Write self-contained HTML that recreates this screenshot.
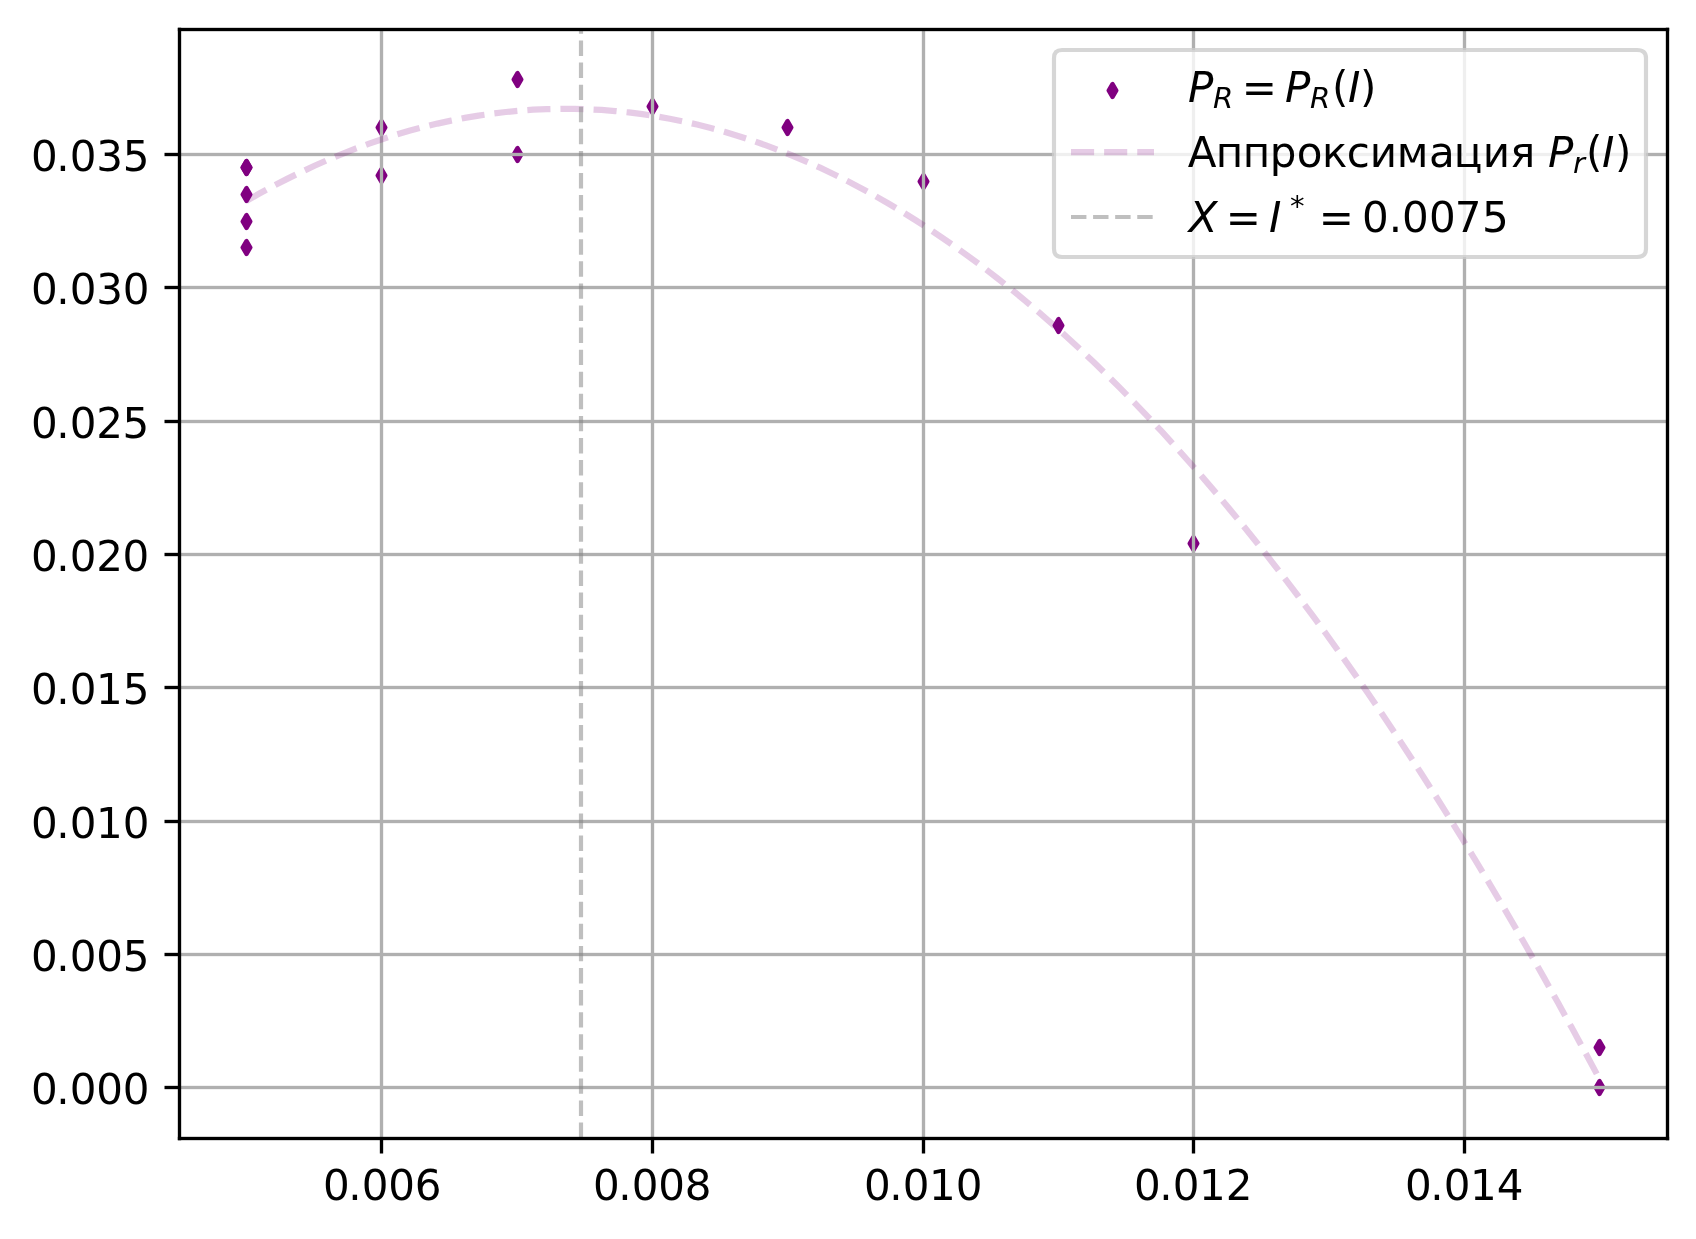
<!DOCTYPE html>
<html lang="ru">
<head>
<meta charset="utf-8">
<title>P_R(I)</title>
<style>
html,body{margin:0;padding:0;background:#fff;}
body{width:1696px;height:1239px;overflow:hidden;}
svg{display:block;will-change:transform;}
text{white-space:pre;}
.t{filter:grayscale(1);}
</style>
</head>
<body>
<svg width="1696" height="1239" viewBox="0 0 1696 1239" font-family='"DejaVu Sans", "Liberation Sans", sans-serif' font-size="41.667" fill="#000">
<defs><clipPath id="ax"><rect x="179" y="29" width="1488" height="1109"/></clipPath></defs>
<rect width="1696" height="1239" fill="#fff"/>
<g clip-path="url(#ax)" fill="#800080" stroke="#800080" stroke-width="4.167" stroke-linejoin="round">
<path d="M246.5 174.088L250.453 167.5L246.5 160.912L242.547 167.5Z"/>
<path d="M246.5 174.088L250.453 167.5L246.5 160.912L242.547 167.5Z"/>
<path d="M246.5 201.088L250.453 194.5L246.5 187.912L242.547 194.5Z"/>
<path d="M246.5 228.088L250.453 221.5L246.5 214.912L242.547 221.5Z"/>
<path d="M246.5 254.088L250.453 247.5L246.5 240.912L242.547 247.5Z"/>
<path d="M381.5 134.088L385.453 127.5L381.5 120.912L377.547 127.5Z"/>
<path d="M381.5 182.088L385.453 175.5L381.5 168.912L377.547 175.5Z"/>
<path d="M517.5 86.088L521.453 79.5L517.5 72.912L513.547 79.5Z"/>
<path d="M517.5 161.088L521.453 154.5L517.5 147.912L513.547 154.5Z"/>
<path d="M652.5 113.088L656.453 106.5L652.5 99.912L648.547 106.5Z"/>
<path d="M787.5 134.088L791.453 127.5L787.5 120.912L783.547 127.5Z"/>
<path d="M923.5 188.088L927.453 181.5L923.5 174.912L919.547 181.5Z"/>
<path d="M1058.5 332.088L1062.453 325.5L1058.5 318.912L1054.547 325.5Z"/>
<path d="M1193.5 550.088L1197.453 543.5L1193.5 536.912L1189.547 543.5Z"/>
<path d="M1599.5 1054.088L1603.453 1047.5L1599.5 1040.912L1595.547 1047.5Z"/>
<path d="M1599.5 1094.088L1603.453 1087.5L1599.5 1080.912L1595.547 1087.5Z"/>
</g>
<g clip-path="url(#ax)" stroke="#b0b0b0" stroke-width="3.333" fill="none">
<path d="M381.5 1140.167V27.833"/>
<path d="M652.5 1140.167V27.833"/>
<path d="M923.5 1140.167V27.833"/>
<path d="M1193.5 1140.167V27.833"/>
<path d="M1464.5 1140.167V27.833"/>
<path d="M177.833 1087.5H1669.167" stroke-width="3"/><path d="M177.833 1085.5H1669.167M177.833 1089.5H1669.167" stroke-width="1" stroke-opacity="0.1667"/>
<path d="M177.833 954.5H1669.167" stroke-width="3"/><path d="M177.833 952.5H1669.167M177.833 956.5H1669.167" stroke-width="1" stroke-opacity="0.1667"/>
<path d="M177.833 821.5H1669.167" stroke-width="3"/><path d="M177.833 819.5H1669.167M177.833 823.5H1669.167" stroke-width="1" stroke-opacity="0.1667"/>
<path d="M177.833 687.5H1669.167" stroke-width="3"/><path d="M177.833 685.5H1669.167M177.833 689.5H1669.167" stroke-width="1" stroke-opacity="0.1667"/>
<path d="M177.833 554.5H1669.167" stroke-width="3"/><path d="M177.833 552.5H1669.167M177.833 556.5H1669.167" stroke-width="1" stroke-opacity="0.1667"/>
<path d="M177.833 421.5H1669.167" stroke-width="3"/><path d="M177.833 419.5H1669.167M177.833 423.5H1669.167" stroke-width="1" stroke-opacity="0.1667"/>
<path d="M177.833 287.5H1669.167" stroke-width="3"/><path d="M177.833 285.5H1669.167M177.833 289.5H1669.167" stroke-width="1" stroke-opacity="0.1667"/>
<path d="M177.833 154.5H1669.167" stroke-width="3"/><path d="M177.833 152.5H1669.167M177.833 156.5H1669.167" stroke-width="1" stroke-opacity="0.1667"/>
</g>
<g stroke="#000" stroke-width="3.333" fill="none">
<path d="M381.5 1138.5V1153.5"/>
<path d="M652.5 1138.5V1153.5"/>
<path d="M923.5 1138.5V1153.5"/>
<path d="M1193.5 1138.5V1153.5"/>
<path d="M1464.5 1138.5V1153.5"/>
<path d="M164.5 1087.5H179.5" stroke-width="3"/><path d="M164.5 1085.5H179.5M164.5 1089.5H179.5" stroke-width="1" stroke-opacity="0.1667"/>
<path d="M164.5 954.5H179.5" stroke-width="3"/><path d="M164.5 952.5H179.5M164.5 956.5H179.5" stroke-width="1" stroke-opacity="0.1667"/>
<path d="M164.5 821.5H179.5" stroke-width="3"/><path d="M164.5 819.5H179.5M164.5 823.5H179.5" stroke-width="1" stroke-opacity="0.1667"/>
<path d="M164.5 687.5H179.5" stroke-width="3"/><path d="M164.5 685.5H179.5M164.5 689.5H179.5" stroke-width="1" stroke-opacity="0.1667"/>
<path d="M164.5 554.5H179.5" stroke-width="3"/><path d="M164.5 552.5H179.5M164.5 556.5H179.5" stroke-width="1" stroke-opacity="0.1667"/>
<path d="M164.5 421.5H179.5" stroke-width="3"/><path d="M164.5 419.5H179.5M164.5 423.5H179.5" stroke-width="1" stroke-opacity="0.1667"/>
<path d="M164.5 287.5H179.5" stroke-width="3"/><path d="M164.5 285.5H179.5M164.5 289.5H179.5" stroke-width="1" stroke-opacity="0.1667"/>
<path d="M164.5 154.5H179.5" stroke-width="3"/><path d="M164.5 152.5H179.5M164.5 156.5H179.5" stroke-width="1" stroke-opacity="0.1667"/>
</g>
<g class="t" font-size="42">
<text><tspan x="323 348.25 361.75 388.25 414.75" y="1200">0.006</tspan></text>
<text><tspan x="593 618.25 631.75 658.25 684.75" y="1200">0.008</tspan></text>
<text><tspan x="864 889.25 902.75 929 955.75" y="1200">0.010</tspan></text>
<text><tspan x="1134 1159.25 1172.75 1199 1225.75" y="1200">0.012</tspan></text>
<text><tspan x="1405 1430.25 1443.75 1470 1496.75" y="1200">0.014</tspan></text>
<text><tspan x="31 56.25 69.75 96.25 122.75" y="1104">0.000</tspan></text>
<text><tspan x="31 56.25 69.75 96.25 122.75" y="971">0.005</tspan></text>
<text><tspan x="31 56.25 69.75 96 122.75" y="838">0.010</tspan></text>
<text><tspan x="31 56.25 69.75 96 122.75" y="704">0.015</tspan></text>
<text><tspan x="31 56.25 69.75 96.25 122.5" y="571">0.020</tspan></text>
<text><tspan x="31 56.25 69.75 96.25 122.5" y="438">0.025</tspan></text>
<text><tspan x="31 56.25 69.75 96.25 122.75" y="304">0.030</tspan></text>
<text><tspan x="31 56.25 69.75 96.25 122.75" y="171">0.035</tspan></text>
</g>
<g clip-path="url(#ax)" fill="none">
<path d="M246.178 201.077L259.842 193.34L273.506 185.942L287.17 178.883L300.834 172.162L314.498 165.78L328.162 159.737L341.825 154.032L355.489 148.666L369.153 143.639L382.817 138.95L396.481 134.6L410.145 130.589L423.809 126.916L437.473 123.582L451.137 120.586L464.801 117.929L478.465 115.611L492.128 113.632L505.792 111.991L519.456 110.688L533.12 109.725L546.784 109.1L560.448 108.813L574.112 108.866L587.776 109.256L601.44 109.986L615.104 111.054L628.768 112.461L642.431 114.207L656.095 116.291L669.759 118.714L683.423 121.475L697.087 124.575L710.751 128.014L724.415 131.791L738.079 135.907L751.743 140.362L765.407 145.155L779.071 150.287L792.735 155.758L806.398 161.567L820.062 167.715L833.726 174.202L847.39 181.027L861.054 188.191L874.718 195.693L888.382 203.534L902.046 211.714L915.71 220.233L929.374 229.09L943.038 238.285L956.701 247.82L970.365 257.693L984.029 267.904L997.693 278.455L1011.357 289.344L1025.021 300.571L1038.685 312.137L1052.349 324.042L1066.013 336.286L1079.677 348.868L1093.341 361.789L1107.004 375.048L1120.668 388.646L1134.332 402.583L1147.996 416.858L1161.66 431.472L1175.324 446.425L1188.988 461.716L1202.652 477.346L1216.316 493.315L1229.98 509.622L1243.644 526.268L1257.308 543.253L1270.971 560.576L1284.635 578.238L1298.299 596.238L1311.963 614.577L1325.627 633.255L1339.291 652.272L1352.955 671.627L1366.619 691.32L1380.283 711.353L1393.947 731.724L1407.611 752.433L1421.274 773.482L1434.938 794.869L1448.602 816.594L1462.266 838.658L1475.93 861.061L1489.594 883.803L1503.258 906.883L1516.922 930.302L1530.586 954.059L1544.25 978.155L1557.914 1002.59L1571.577 1027.363L1585.241 1052.475L1598.905 1077.926" stroke="#800080" stroke-opacity="0.2" stroke-width="6.25" stroke-dasharray="23.125 10" stroke-linejoin="round"/>
<path d="M581 1138V29" stroke="#808080" stroke-opacity="0.5" stroke-width="4.167" stroke-dasharray="15.417 6.667"/>
</g>
<g stroke="#000" stroke-width="3.333" stroke-linecap="square" fill="none">
<path d="M179.5 1138.5V29.5"/><path d="M1667.5 1138.5V29.5"/>
<g stroke-linecap="butt"><path d="M177.833 1138.5H1669.167" stroke-width="3"/><path d="M177.833 1136.5H1669.167M177.833 1140.5H1669.167" stroke-width="1" stroke-opacity="0.1667"/><path d="M177.833 29.5H1669.167" stroke-width="3"/><path d="M177.833 27.5H1669.167M177.833 31.5H1669.167" stroke-width="1" stroke-opacity="0.1667"/></g>
</g>
<path d="M1062 257L1637 257Q1646 257 1646 249L1646 58Q1646 50 1637 50L1062 50Q1054 50 1054 58L1054 249Q1054 257 1062 257Z" fill="#fff" fill-opacity="0.8" stroke="#ccc" stroke-opacity="0.8" stroke-width="4.167" stroke-linejoin="miter"/>
<g fill="#800080" stroke="#800080" stroke-width="4.167" stroke-linejoin="round"><path d="M1112.5 97.088L1116.453 90.5L1112.5 83.912L1108.547 90.5Z"/></g>
<path d="M1071 152H1154" fill="none" stroke="#800080" stroke-opacity="0.2" stroke-width="6.25" stroke-dasharray="23.125 10"/>
<path d="M1071 217H1154" fill="none" stroke="#808080" stroke-opacity="0.5" stroke-width="4.167" stroke-dasharray="15.417 6.667"/>
<g class="t" font-size="42">
<text><tspan x="1188" y="102" font-style="oblique">P</tspan><tspan x="1213" y="108" font-size="29.167" font-style="oblique">R</tspan><tspan x="1228.5 1241.75 1277" y="102"> = </tspan><tspan x="1285" y="102" font-style="oblique">P</tspan><tspan x="1310" y="108" font-size="29.167" font-style="oblique">R</tspan><tspan x="1332" y="102">(</tspan><tspan x="1348" y="102" font-style="oblique">I</tspan><tspan x="1360" y="102">)</tspan></text>
<text><tspan x="1187.75 1215.75 1242.75 1269.75 1296.75 1322 1346.75 1369.75 1396.75 1429 1453.75 1482.75 1510 1535.25" y="167">Аппроксимация </tspan><tspan x="1548" y="167" font-style="oblique">P</tspan><tspan x="1573" y="173" font-size="29.167" font-style="oblique">r</tspan><tspan x="1586" y="167">(</tspan><tspan x="1602" y="167" font-style="oblique">I</tspan><tspan x="1615" y="167">)</tspan></text>
<text><tspan x="1188.75" y="232" font-style="oblique">X</tspan><tspan x="1212.5 1225.75 1261" y="232"> = </tspan><tspan x="1269" y="232" font-style="oblique">I</tspan><tspan x="1290" y="216" font-size="29.167">*</tspan><tspan x="1305.25 1318.75 1354 1362 1388.75 1402 1429 1454.75 1482" y="232"> = 0.0075</tspan></text>
</g>
</svg>
</body>
</html>
